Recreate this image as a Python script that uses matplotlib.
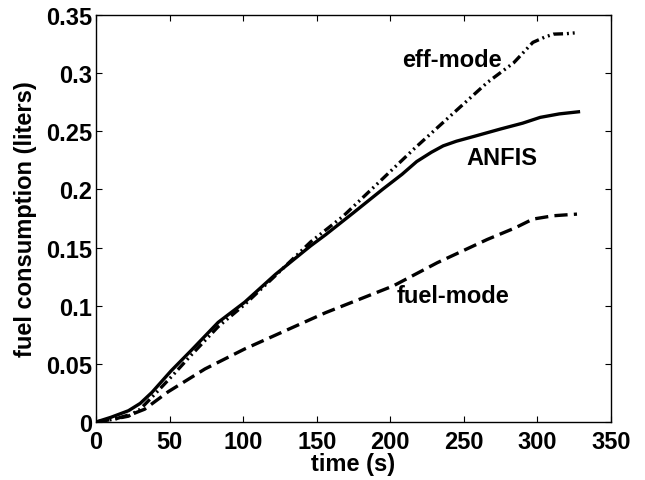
import matplotlib
matplotlib.use("Agg")
import matplotlib.pyplot as plt

plt.rcParams['font.family'] = ['Liberation Sans', 'DejaVu Sans']
plt.rcParams['font.weight'] = 'bold'
plt.rcParams['lines.scale_dashes'] = False

# Cumulative fuel consumption over the drive cycle
anfis_t = [0, 10, 22, 30, 38, 51, 65, 83, 101, 122, 146, 156, 175, 195, 208,
           218, 228, 236, 245, 258, 275, 290, 302, 315, 328]
anfis_y = [0, 0.004, 0.0097, 0.016, 0.0255, 0.044, 0.062, 0.0857, 0.103, 0.127,
           0.1516, 0.161, 0.180, 0.2003, 0.213, 0.224, 0.232, 0.2375, 0.2415,
           0.246, 0.252, 0.257, 0.262, 0.265, 0.2668]

eff_t = [0, 10, 22, 30, 40, 52, 65, 83, 101, 122, 146, 168, 193, 216, 241, 266,
         284, 297, 305, 311, 320, 328]
eff_y = [0, 0.002, 0.005, 0.011, 0.024, 0.040, 0.058, 0.082, 0.101, 0.126,
         0.155, 0.177, 0.207, 0.2347, 0.2634, 0.292, 0.309, 0.3265, 0.331,
         0.3336, 0.334, 0.335]

fuel_t = [0, 13, 26, 33, 49, 74, 101, 126, 156, 202, 232, 266, 285, 297, 311, 327]
fuel_y = [0, 0.0026, 0.0075, 0.011, 0.026, 0.0456, 0.0628, 0.077, 0.094, 0.117,
          0.137, 0.157, 0.167, 0.1745, 0.1774, 0.1788]

x_ticks = [0, 50, 100, 150, 200, 250, 300, 350]
y_ticks = [0, 0.05, 0.1, 0.15, 0.2, 0.25, 0.3, 0.35]
y_tick_labels = ['0', '0.05', '0.1', '0.15', '0.2', '0.25', '0.3', '0.35']

fig = plt.figure(figsize=(6.45, 4.81), dpi=100)
ax = fig.add_axes([0.149, 0.1206, 0.798, 0.846])

lw = 2.4
ax.plot(anfis_t, anfis_y, color='black', lw=lw, linestyle='-')
ax.plot(eff_t, eff_y, color='black', lw=lw,
        linestyle=(0, (7.0, 2.8, 1.4, 2.8, 1.4, 2.8)))
ax.plot(fuel_t, fuel_y, color='black', lw=lw, linestyle=(0, (9.5, 4.5)))

ax.text(241.8, 0.312, 'eff-mode', ha='center', va='center', fontsize=17,
        fontweight='bold')
ax.text(275.8, 0.2276, 'ANFIS', ha='center', va='center', fontsize=17,
        fontweight='bold')
ax.text(243, 0.1086, 'fuel-mode', ha='center', va='center', fontsize=17,
        fontweight='bold')

ax.set_xlim(0, 350)
ax.set_ylim(0, 0.35)
ax.set_xticks(x_ticks)
ax.set_yticks(y_ticks)
ax.set_yticklabels(y_tick_labels)
ax.tick_params(direction='in', top=True, right=True, length=4, width=0.8,
               labelsize=17)
ax.tick_params(axis='x', pad=6)
ax.tick_params(axis='y', pad=3)
for lab in ax.get_xticklabels() + ax.get_yticklabels():
    lab.set_fontweight('bold')
for sp in ax.spines.values():
    sp.set_linewidth(1.0)

ax.set_xlabel('time (s)', fontsize=17, fontweight='bold', labelpad=-1)
ax.set_ylabel('fuel consumption (liters)', fontsize=17, fontweight='bold',
              labelpad=6)

fig.savefig('out.png', dpi=100)
